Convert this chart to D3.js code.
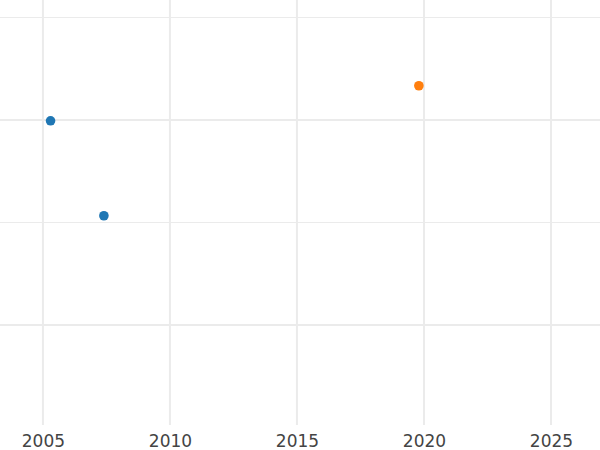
<!DOCTYPE html>
<html>
<head>
<meta charset="utf-8">
<script src="https://cdn.jsdelivr.net/npm/d3@7"></script>
<style>
  html, body { margin: 0; padding: 0; background: #fff; }
  svg { display: block; }
</style>
</head>
<body>
<svg id="chart" width="600" height="450"></svg>
<script>
// Data
const years = [2005.3, 2007.4, 2019.8];
const values = [0.996, 0.533, 1.167];
const groups = ["A", "A", "B"];
const groupNames = ["A", "B"];
const groupColors = ["#1f77b4", "#ff7f0e"];
const xTicks = [2005, 2010, 2015, 2020, 2025];
const yMajorTicks = [0, 1];
const yMinorTicks = [-0.5, 0.5, 1.5];

const W = 600, H = 450;
const plotBottom = 425;
const svg = d3.select("#chart");

const x = d3.scaleLinear().domain([2003.31, 2026.93]).range([0, W]);
const y = d3.scaleLinear().domain([0, 1]).range([325, 120]);
const color = d3.scaleOrdinal().domain(groupNames).range(groupColors);

const grid = svg.append("g");
// minor horizontal
grid.selectAll(".ymin").data(yMinorTicks.filter(v => y(v) >= 0 && y(v) <= plotBottom)).enter()
  .append("line")
  .attr("x1", 0).attr("x2", W)
  .attr("y1", d => y(d)).attr("y2", d => y(d))
  .attr("stroke", "#ebebeb").attr("stroke-width", 1);
// major horizontal
grid.selectAll(".ymaj").data(yMajorTicks).enter()
  .append("line")
  .attr("x1", 0).attr("x2", W)
  .attr("y1", d => y(d)).attr("y2", d => y(d))
  .attr("stroke", "#ebebeb").attr("stroke-width", 2);
// vertical
grid.selectAll(".xmaj").data(xTicks).enter()
  .append("line")
  .attr("x1", d => x(d)).attr("x2", d => x(d))
  .attr("y1", 0).attr("y2", plotBottom)
  .attr("stroke", "#ebebeb").attr("stroke-width", 2);

// x axis labels
const xAxis = d3.axisBottom(x).tickValues(xTicks).tickFormat(d3.format("d")).tickSize(0).tickPadding(0);
const gx = svg.append("g").attr("transform", `translate(0,${plotBottom})`).call(xAxis);
gx.select(".domain").remove();
gx.selectAll("text")
  .attr("dy", null)
  .attr("y", 21.5)
  .attr("fill", "#444")
  .style("font-family", "DejaVu Sans, sans-serif")
  .style("font-size", "17px");

// points
svg.append("g").selectAll("circle")
  .data(years.map((yr, i) => ({yr, v: values[i], g: groups[i]})))
  .enter().append("circle")
  .attr("cx", d => x(d.yr))
  .attr("cy", d => y(d.v))
  .attr("r", 4.8)
  .attr("fill", d => color(d.g));
</script>
</body>
</html>
